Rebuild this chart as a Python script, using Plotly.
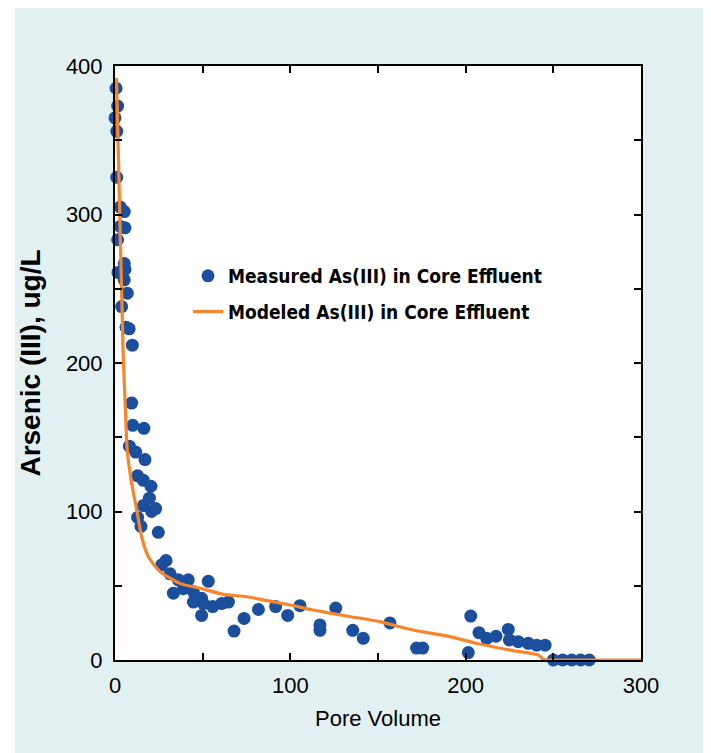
import plotly.graph_objects as go

# Measured As(III) in core effluent
pore_volume_measured = [0.6, 1.5, 0, 1, 1, 3, 5.3, 3, 5.7, 1.5, 5.3, 5.7, 1.7, 5.3, 7, 3.8, 6.3, 8.1, 9.9,
                        9.5, 10.1, 16.5, 8.2, 11.8, 17.1, 12.9, 16.2, 20.5, 19.6, 16.2, 23.2, 20.9, 14.8, 24.7, 12.9,
                        29.1, 26.6, 31.4, 36.1, 41.8, 33.3, 39, 44.7, 44.7, 49.4, 53.2, 50.4, 49.4, 55.7, 60.8, 64.7,
                        67.9, 73.6, 81.8, 91.6, 98.5, 105.5, 116.9, 116.9, 125.9, 135.6, 141.6, 156.8, 172, 175.5,
                        202.9, 201.5, 207.6, 212, 217.3, 224.3, 224.9, 230, 235.7, 240.5, 245.3,
                        250, 255.3, 260.5, 265.6, 270.5]
arsenic_measured = [385, 373, 365, 356, 325, 305, 302, 292, 291, 283, 267, 263, 261, 256, 247, 238, 224, 223, 212,
                    173, 158, 156, 144, 140, 135, 124, 121, 117, 109, 104, 102, 100, 90, 86, 96,
                    67, 64, 58, 54, 54, 45, 48, 46, 39, 41.5, 53, 38, 30, 36, 38, 39,
                    19.5, 28, 34, 36, 30, 36.6, 23.6, 20, 35, 20, 14.6, 25, 8, 8,
                    29.6, 5, 18.4, 14.6, 16, 20.6, 13.5, 12.3, 11.2, 10, 10,
                    0, 0, 0, 0, 0]

# Modeled As(III) in core effluent
pore_volume_model = [0.8, 2, 3, 4, 4.7, 5.7, 7, 9.5, 12.4, 15.2, 19, 25.7, 37, 48.5, 61.8, 75, 90, 100,
                     113, 132, 151, 170, 189, 208, 227, 241.5, 244.5, 255, 270, 285, 300]
arsenic_model = [392, 337, 286, 238, 205, 175, 141, 119, 101, 83, 69.6, 59.5, 51.6, 48.3, 44.2, 42.6, 39.3, 37,
                 33.7, 29.6, 25.8, 20.2, 16.2, 10.8, 6.3, 3.4, 0.3, 0, 0, 0, 0]

x_ticks = [0, 100, 200, 300]
y_ticks = [0, 100, 200, 300, 400]

SANS = "Liberation Sans, Arial, Helvetica, sans-serif"
COND = "DejaVu Sans Condensed, Liberation Sans, sans-serif"
BG = "#e2f0f2"

fig = go.Figure()
fig.add_trace(go.Scatter(
    x=pore_volume_measured, y=arsenic_measured, mode="markers",
    name="<b>Measured As(III) in Core Effluent</b>", legendgroup="measured",
    marker=dict(color="#1b4f9e", size=13, line=dict(width=0)),
    cliponaxis=False,
))
fig.add_trace(go.Scatter(
    x=pore_volume_model, y=arsenic_model, mode="lines",
    name="<b>Modeled As(III) in Core Effluent</b>", legendgroup="model",
    line=dict(color="#f5862c", width=3.2, shape="spline", smoothing=0.6),
    cliponaxis=False,
))

axis_common = dict(
    showline=True, linecolor="black", linewidth=2, mirror="ticks",
    ticks="inside", ticklen=7, tickwidth=2, tickcolor="black",
    showgrid=False, zeroline=False,
    tickfont=dict(family=SANS, size=22, color="black"),
    minor=dict(ticks="inside", ticklen=7, tickwidth=2, tickcolor="black", dtick=50, showgrid=False),
)

fig.update_xaxes(range=[0, 300], tickvals=x_ticks, ticklabelstandoff=5,
                 title=dict(text="Pore Volume", font=dict(family=SANS, size=22, color="black"), standoff=13),
                 **axis_common)
fig.update_yaxes(range=[0, 400], tickvals=y_ticks, ticklabelstandoff=6,
                 title=dict(text="<b>Arsenic (III), ug/L</b>",
                            font=dict(family=SANS, size=28, color="black"),
                            standoff=17),
                 **axis_common)

W, H = 699, 745
L, R, T, B = 107, 66, 58, 93
pw, ph = W - L - R, H - T - B
def px(xp):
    return (xp - L) / pw
def py(yp):
    return (H - B - yp) / ph

# white strip at the left of the tinted panel
fig.add_shape(type="rect", xref="paper", yref="paper", x0=px(0), x1=px(7), y0=py(H), y1=py(0),
              fillcolor="white", line_width=0, layer="below")

fig.update_layout(
    width=W, height=H,
    margin=dict(l=L, r=R, t=T, b=B),
    paper_bgcolor=BG, plot_bgcolor="white",
    showlegend=True,
    legend=dict(x=px(180), y=py(249), xanchor="left", yanchor="top",
                bgcolor="rgba(0,0,0,0)", borderwidth=0, tracegroupgap=8,
                font=dict(family=COND, size=19, color="black")),
)

fig.write_html("out.html")
